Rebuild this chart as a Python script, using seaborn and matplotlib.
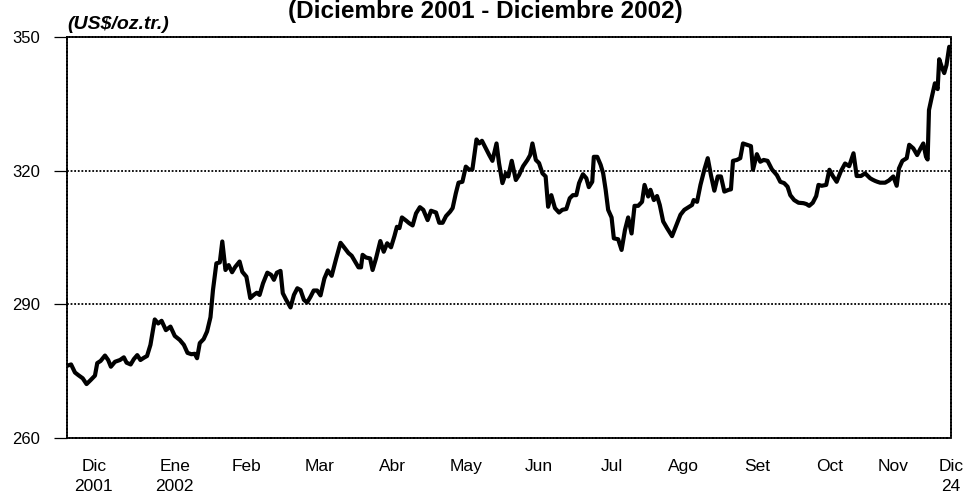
import matplotlib
matplotlib.use("Agg")
import matplotlib.pyplot as plt
import seaborn as sns
import pandas as pd

# Cotización del oro (US$/oz.tr.), dic 2001 - 24 dic 2002
# dia = días transcurridos desde el 1 de diciembre de 2001
dia_dic_feb = [0.0, 1.8, 3.5, 5.0, 6.9, 8.6, 10.4, 12.3, 13.3, 14.8,
               16.7, 18.1, 19.3, 21.1, 23.3, 25.0, 26.2, 28.0, 29.4, 30.9,
               32.3, 33.8, 35.2, 36.7, 38.6, 40.1, 41.6, 43.5, 45.5, 47.4,
               49.6, 51.4, 53.0, 54.7, 56.2, 57.2, 58.4, 60.1, 61.6, 63.1,
               64.2, 65.7, 67.2, 68.3, 69.7, 71.1, 72.6, 74.0, 75.9, 77.1,
               78.9, 80.6, 82.1, 83.5]
precio_dic_feb = [276.2, 276.5, 274.7, 274.1, 273.4, 272.1, 273.0, 274.0, 276.8, 277.3,
                  278.5, 277.5, 276.0, 277.1, 277.5, 278.1, 276.9, 276.5, 277.7, 278.6,
                  277.5, 278.0, 278.4, 280.9, 286.6, 285.7, 286.3, 284.2, 285.0, 282.9,
                  282.0, 280.9, 279.1, 278.8, 278.9, 277.9, 281.3, 282.2, 283.9, 287.1,
                  293.2, 299.2, 299.4, 304.1, 297.7, 298.8, 297.2, 298.4, 299.6, 297.3,
                  296.2, 291.4, 292.1, 292.6]

dia_feb_may = [84.7, 86.2, 88.1, 89.8, 91.0, 92.3, 93.9, 94.9, 96.4, 98.3,
               99.8, 101.3, 102.7, 104.2, 105.6, 107.1, 108.5, 110.0, 111.5, 113.2,
               114.7, 116.4, 118.4, 120.3, 121.7, 123.8, 125.2, 126.7, 128.2, 129.3,
               130.0, 131.5, 133.3, 134.4, 135.9, 137.8, 139.3, 140.8, 142.5, 144.0,
               145.1, 146.2, 147.3, 149.1, 150.5, 152.0, 153.5, 155.2, 156.7, 158.6,
               160.1, 162.3, 163.7, 165.2, 166.7, 168.5]
precio_feb_may = [292.1, 294.7, 297.1, 296.6, 295.5, 297.1, 297.5, 292.5, 291.0, 289.3,
                  292.1, 293.6, 293.2, 291.0, 290.4, 291.7, 293.1, 293.1, 292.0, 295.8,
                  297.6, 296.4, 300.3, 303.8, 302.9, 301.5, 300.9, 299.6, 298.3, 298.3,
                  301.1, 300.5, 300.3, 297.7, 300.3, 304.2, 301.8, 303.7, 302.8, 305.3,
                  307.4, 307.1, 309.5, 308.8, 308.2, 307.7, 310.4, 311.8, 311.2, 308.9,
                  311.0, 310.6, 308.3, 308.3, 309.8, 310.8]

dia_may_ago = [169.6, 171.0, 172.2, 173.9, 175.4, 176.9, 178.3, 180.1, 181.3, 182.5,
               184.2, 185.7, 187.1, 188.9, 190.0, 191.5, 193.0, 194.1, 195.6, 197.4,
               198.8, 200.6, 202.5, 203.7, 204.7, 206.2, 207.6, 209.1, 210.5, 211.6,
               213.0, 214.6, 216.4, 217.8, 219.6, 221.1, 222.5, 224.0, 225.2, 226.9,
               228.4, 229.5, 231.0, 231.7, 233.2, 234.7, 235.8, 236.9, 238.0, 239.5,
               240.5, 242.4, 243.9, 245.4, 246.8, 248.3, 249.6, 251.2, 252.9, 254.0,
               255.6]
precio_may_ago = [311.6, 314.9, 317.3, 317.5, 320.9, 320.2, 320.3, 327.0, 326.1, 326.7,
                  325.0, 323.5, 322.2, 326.1, 321.7, 317.2, 319.4, 318.7, 322.2, 317.9,
                  319.0, 321.0, 322.4, 323.5, 326.1, 322.4, 321.7, 319.4, 318.7, 311.9,
                  314.5, 311.6, 310.6, 311.2, 311.4, 313.8, 314.5, 314.5, 317.2, 319.2,
                  318.3, 316.3, 317.5, 323.1, 323.1, 321.3, 319.4, 315.7, 311.2, 309.5,
                  304.8, 304.6, 302.2, 306.7, 309.5, 305.9, 312.1, 312.1, 313.0, 316.8,
                  314.2]

dia_ago_nov = [256.6, 258.1, 259.5, 260.7, 262.2, 263.9, 266.1, 268.0, 269.8, 271.5,
               273.4, 274.9, 275.6, 277.1, 278.6, 280.3, 281.8, 283.2, 284.7, 286.2,
               287.6, 289.1, 291.0, 292.0, 292.9, 294.6, 296.1, 297.3, 299.0, 300.8,
               301.7, 303.4, 304.9, 306.4, 308.1, 310.0, 312.2, 313.7, 315.4, 316.9,
               318.1, 319.8, 321.7, 323.9, 325.2, 326.4, 328.0, 329.5, 330.5, 331.9,
               333.9, 335.3, 336.8, 338.5, 340.3]
precio_ago_nov = [315.7, 313.4, 314.3, 312.3, 308.6, 307.1, 305.3, 307.8, 310.1, 311.2,
                  311.8, 312.3, 313.4, 313.0, 316.8, 320.2, 322.8, 319.0, 315.5, 318.7,
                  318.7, 315.3, 315.7, 315.8, 322.2, 322.4, 322.8, 326.1, 325.8, 325.5,
                  320.2, 323.7, 322.0, 322.4, 322.2, 320.3, 319.0, 317.5, 317.2, 316.4,
                  314.5, 313.4, 312.8, 312.7, 312.5, 312.1, 312.8, 314.3, 316.8, 316.6,
                  316.8, 320.2, 318.8, 317.5, 319.8]

dia_nov_dic = [342.2, 344.0, 345.9, 347.3, 349.2, 351.0, 353.2, 354.2, 355.4, 356.4,
               357.6, 359.8, 361.5, 363.4, 364.9, 365.9, 367.4, 369.3, 370.4, 372.2,
               373.9, 375.4, 376.6, 377.8, 378.5, 379.1, 380.2, 381.7, 382.9, 383.6,
               384.9, 385.8, 386.8, 388.0]
precio_nov_dic = [321.6, 321.0, 323.9, 318.8, 318.8, 319.4, 318.3, 318.0, 317.7, 317.5,
                  317.3, 317.3, 317.8, 318.7, 316.6, 320.5, 322.2, 322.8, 325.8, 325.0,
                  323.5, 325.0, 326.1, 323.1, 322.5, 333.6, 336.2, 339.6, 338.3, 345.0,
                  343.0, 341.9, 343.7, 347.8]

meses = ["Dic\n2001", "Ene\n2002", "Feb", "Mar", "Abr", "May", "Jun", "Jul",
         "Ago", "Set", "Oct", "Nov", "Dic\n24"]
y_ticks = [260, 290, 320, 350]

dia = dia_dic_feb + dia_feb_may + dia_may_ago + dia_ago_nov + dia_nov_dic
precio = precio_dic_feb + precio_feb_may + precio_may_ago + precio_ago_nov + precio_nov_dic
df = pd.DataFrame({"dia": dia, "precio": precio})
dia_fin = max(dia)

sns.set_style("white")
plt.rcParams["font.family"] = ["Liberation Sans", "DejaVu Sans"]
plt.rcParams["text.color"] = "black"
plt.rcParams["xtick.color"] = "black"
plt.rcParams["ytick.color"] = "black"

fig = plt.figure(figsize=(9.64, 4.93), dpi=100)
ax = fig.add_axes([0.0695, 0.1116, 0.917, 0.8134])

sns.lineplot(data=df, x="dia", y="precio", color="black", linewidth=3.0,
             estimator=None, sort=False, ax=ax)

ax.set_xlim(0, dia_fin)
ax.set_ylim(260, 350)
ax.set_yticks(y_ticks)
ax.tick_params(axis="y", left=True, length=9.5, width=0.9, color="black", pad=10,
               labelsize=12, labelcolor="black")

# rótulos de meses (posición relativa al ancho del eje)
frac = [0.0305, 0.1222, 0.2036, 0.2862, 0.3688, 0.4525, 0.535, 0.6176,
        0.699, 0.7828, 0.864, 0.9367, 1.002]
ax.set_xticks([f * dia_fin for f in frac])
ax.set_xticklabels(meses, fontsize=12.5, linespacing=1.4, color="black")
ax.tick_params(axis="x", length=0, pad=15)

for v in [290, 320]:
    ax.axhline(v, color="black", linewidth=1.3, linestyle=(0, (1.0, 1.0)), zorder=1)

for side in ["left", "right", "top", "bottom"]:
    ax.spines[side].set_visible(True)
    ax.spines[side].set_color("black")
    ax.spines[side].set_linewidth(1.3)
    ax.spines[side].set_linestyle((0, (1.0, 0.8)))

ax.set_xlabel("")
ax.set_ylabel("")

fig.text(0.503, 0.9645, "(Diciembre 2001 - Diciembre 2002)", ha="center",
         va="baseline", fontsize=17.5, fontweight="bold")
fig.text(0.0695, 0.942, "(US$/oz.tr.)", ha="left", va="baseline",
         fontsize=14, fontweight="bold", fontstyle="italic")

fig.savefig("out.png", dpi=100)
